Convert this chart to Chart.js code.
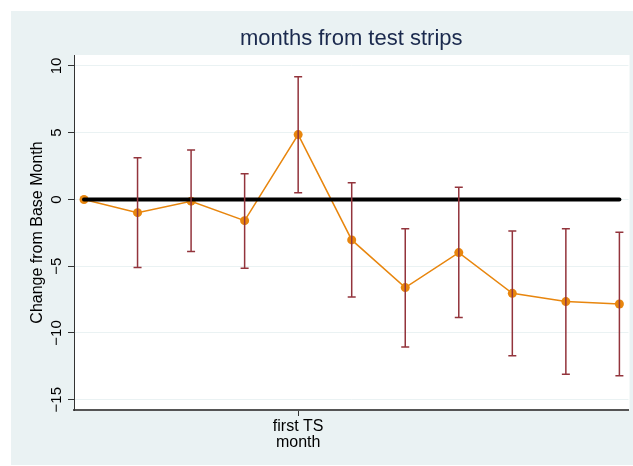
<!DOCTYPE html>
<html>
<head>
<meta charset="utf-8">
<script src="https://cdn.jsdelivr.net/npm/chart.js@4/dist/chart.umd.min.js"></script>
<style>
  html, body { margin: 0; padding: 0; background: #ffffff; }
  #wrap { width: 633px; height: 466px; }
</style>
</head>
<body>
<div id="wrap"><canvas id="c" width="633" height="466"></canvas></div>
<script>
// ---- data ----
const monthOffset = [-4, -3, -2, -1, 0, 1, 2, 3, 4, 5, 6];
const meanChange  = [0, -0.99, -0.13, -1.59, 4.86, -3.03, -6.60, -3.98, -7.03, -7.65, -7.83];
const upperCI     = [0, 3.13, 3.70, 1.93, 9.20, 1.26, -2.19, 0.91, -2.36, -2.19, -2.46];
const lowerCI     = [0, -5.10, -3.90, -5.16, 0.51, -7.30, -11.05, -8.85, -11.70, -13.10, -13.20];
const yTickValues = [-15, -10, -5, 0, 5, 10];
const xTickValues = [0];
const xTickLabels = [["first TS", "month"]];
const titleText   = "months from test strips";
const yTitleText  = "Change from Base Month";

const BG = '#eaf2f3';
const ORANGE = '#e8860e';
const CRANBERRY = '#93343c';

Chart.defaults.font.family = "'Liberation Sans', Arial, Helvetica, sans-serif";
Chart.defaults.color = '#000';

const bgPlugin = {
  id: 'bg',
  beforeDraw(chart) {
    const ctx = chart.ctx, a = chart.chartArea;
    ctx.save();
    ctx.fillStyle = BG;
    ctx.fillRect(11, 11, chart.width - 11, chart.height - 12);
    ctx.fillStyle = '#ffffff';
    ctx.fillRect(a.left, a.top, a.right - a.left + 1, a.bottom - a.top);
    ctx.restore();
  },
  afterDraw(chart) {
    const ctx = chart.ctx, a = chart.chartArea;
    ctx.save();
    ctx.fillStyle = '#1b2a4e';
    ctx.font = "22px 'Liberation Sans', Arial, sans-serif";
    ctx.textAlign = 'center';
    ctx.textBaseline = 'alphabetic';
    ctx.fillText(titleText, (a.left + a.right) / 2, 45);
    ctx.restore();
  }
};

const errPlugin = {
  id: 'errbars',
  afterDatasetsDraw(chart) {
    const ctx = chart.ctx, xs = chart.scales.x, ys = chart.scales.y;
    ctx.save();
    ctx.strokeStyle = CRANBERRY;
    ctx.lineWidth = 1.5;
    for (let i = 0; i < monthOffset.length; i++) {
      if (upperCI[i] === lowerCI[i]) continue;
      const x = xs.getPixelForValue(monthOffset[i]);
      const yt = ys.getPixelForValue(upperCI[i]);
      const yb = ys.getPixelForValue(lowerCI[i]);
      ctx.beginPath();
      ctx.moveTo(x, yt); ctx.lineTo(x, yb);
      ctx.moveTo(x - 4, yt); ctx.lineTo(x + 4, yt);
      ctx.moveTo(x - 4, yb); ctx.lineTo(x + 4, yb);
      ctx.stroke();
    }
    ctx.restore();
  }
};

new Chart(document.getElementById('c'), {
  type: 'line',
  data: {
    datasets: [
      {
        data: [{x: monthOffset[0], y: 0}, {x: monthOffset[monthOffset.length - 1], y: 0}],
        borderColor: '#000',
        borderWidth: 4,
        pointRadius: 0,
        borderCapStyle: 'round',
        order: 0
      },
      {
        data: monthOffset.map((m, i) => ({x: m, y: meanChange[i]})),
        borderColor: ORANGE,
        borderWidth: 1.5,
        backgroundColor: ORANGE,
        pointRadius: 4.5,
        pointBorderWidth: 0,
        pointBackgroundColor: ORANGE,
        tension: 0,
        order: 1
      }
    ]
  },
  options: {
    responsive: false,
    animation: false,
    layout: { padding: { left: 11, right: 3, top: 55, bottom: 0 } },
    plugins: { legend: { display: false }, tooltip: { enabled: false }, title: { display: false } },
    scales: {
      x: {
        type: 'linear',
        min: -4.187,
        max: 6.17,
        afterBuildTicks(scale) { scale.ticks = xTickValues.map(v => ({value: v})); },
        afterFit(scale) { scale.height = 56; },
        ticks: {
          font: { size: 16, lineHeight: 1.0 },
          color: '#000',
          padding: 3,
          maxRotation: 0,
          minRotation: 0,
          callback(value) {
            const idx = xTickValues.indexOf(value);
            return idx >= 0 ? xTickLabels[idx] : '';
          }
        },
        grid: { drawOnChartArea: false, drawTicks: true, tickLength: 6, tickColor: '#333' },
        border: { display: true, color: '#555', width: 2 }
      },
      y: {
        type: 'linear',
        min: -15.77,
        max: 10.82,
        afterBuildTicks(scale) { scale.ticks = yTickValues.map(v => ({value: v})); },
        afterFit(scale) { scale.width = 63; },
        ticks: {
          font: { size: 15 },
          color: '#000',
          minRotation: 90,
          maxRotation: 90,
          crossAlign: 'center',
          padding: -2,
          callback(value) { return String(value).replace('-', '\u2212'); }
        },
        grid: { color: BG, lineWidth: 1, drawTicks: true, tickLength: 6, tickColor: '#333' },
        border: { display: true, color: '#333', width: 1 },
        title: { display: true, text: yTitleText, font: { size: 16 }, color: '#000', padding: { top: 17, bottom: 0 } }
      }
    }
  },
  plugins: [bgPlugin, errPlugin]
});
</script>
</body>
</html>
